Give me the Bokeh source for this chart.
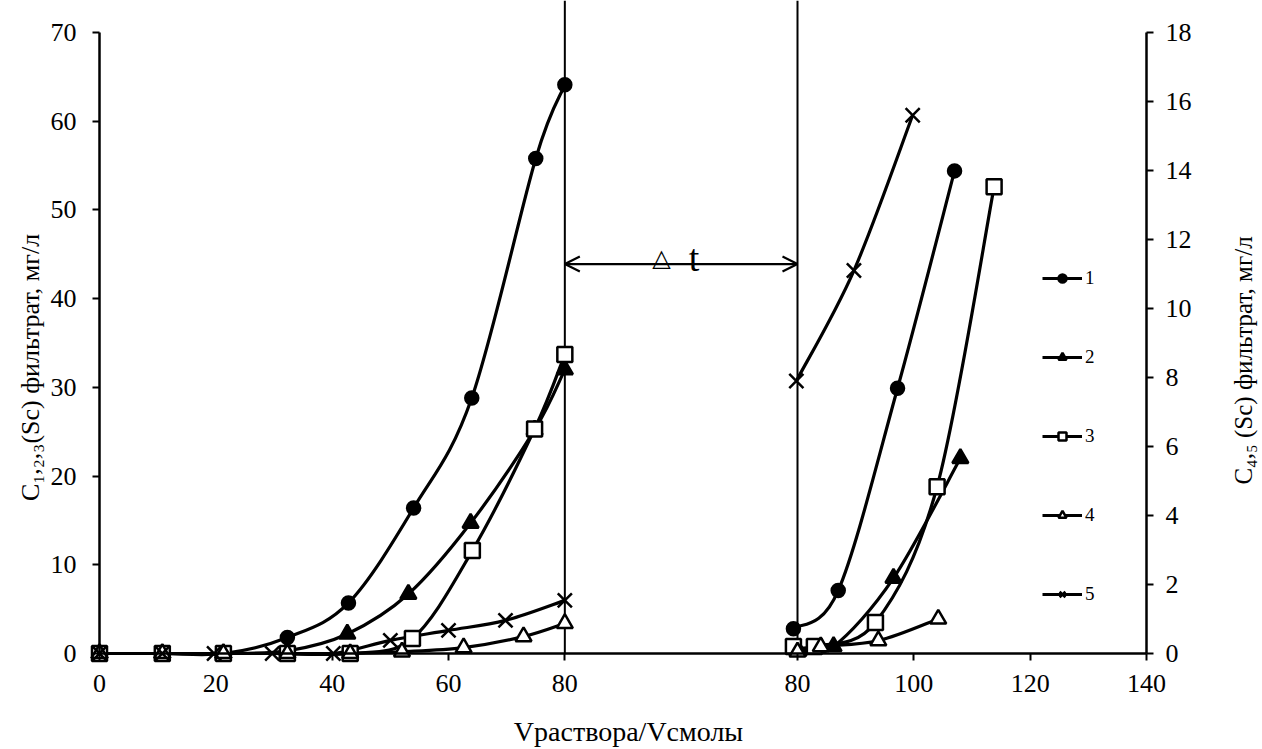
import math
from bokeh.plotting import figure
from bokeh.models import (Range1d, LinearAxis, FixedTicker, Label, Legend, LegendItem,
                          Arrow, OpenHead)
from bokeh.embed import file_html
from bokeh.resources import INLINE

# ---------------- data ----------------
# stage 1 (left part of the x axis, 0..80)
s1_x = [0, 10.8, 21.3, 32.3, 42.8, 54.0, 64.0, 75.0, 80.0]
s1_y = [0, 0, 0, 1.8, 5.7, 16.4, 28.8, 55.8, 64.1]
s2_x = [0, 10.8, 21.3, 32.3, 42.6, 53.1, 63.8, 74.8, 80.0]
s2_y = [0, 0, 0, 0.3, 2.2, 6.7, 14.7, 25.2, 32.0]
s3_x = [0, 10.8, 21.3, 32.3, 43.1, 53.8, 64.1, 74.8, 80.0]
s3_y = [0, 0, 0, 0, 0, 1.7, 11.6, 25.3, 33.7]
s4_x = [0, 10.8, 21.3, 32.3, 43.1, 52.0, 62.6, 72.9, 80.0]
s4_y = [0, 0, 0, 0, 0, 0.05, 0.17, 0.49, 0.87]
s5_x = [0, 10.8, 19.7, 29.7, 40.2, 50.0, 60.0, 69.8, 80.0]
s5_y = [0, 0, 0, 0, 0, 0.38, 0.67, 0.96, 1.54]

# stage 2 (right part of the x axis, 80..140)
r1_x = [79.3, 87.0, 97.2, 107.0]
r1_y = [2.8, 7.1, 29.9, 54.4]
r2_x = [80.2, 86.2, 96.5, 108.0]
r2_y = [0.3, 0.8, 8.5, 22.0]
r3_x = [79.3, 82.9, 93.4, 104.0, 113.8]
r3_y = [0.8, 0.8, 3.5, 18.8, 52.6]
r4_x = [80.0, 84.0, 93.9, 104.2]
r4_y = [0.05, 0.2, 0.37, 1.0]
r5_x = [79.8, 89.7, 99.8]
r5_y = [7.9, 11.1, 15.6]

left_ticks = [0, 10, 20, 30, 40, 50, 60, 70]
right_ticks = [0, 2, 4, 6, 8, 10, 12, 14, 16, 18]
x_tick_labels_left = [0, 20, 40, 60, 80]
x_tick_labels_right = [80, 100, 120, 140]
legend_labels = ["1", "2", "3", "4", "5"]

GAP = 40  # the second stage is drawn shifted by this many axis units
boundaries = [80, 80 + GAP]
X_MAX = 140 + GAP

FONT = "Liberation Serif"

# ---------------- layout ----------------
W, H = 1262, 749
X0_PX, XMAX_PX = 99, 1146       # pixel positions of x=0 and of the last tick
Y0_PX, Y70_PX = 653, 32         # pixel positions of y=0 and y=70 (left axis)
sx = (XMAX_PX - X0_PX) / X_MAX
sy = (Y0_PX - Y70_PX) / 70.0
x_start = -X0_PX / sx
x_end = X_MAX + (W - XMAX_PX) / sx
y_end = Y0_PX / sy
y_start = -(H - Y0_PX) / sy
R = 18 / 70

p = figure(width=W, height=H, output_backend="svg", toolbar_location=None,
           x_range=Range1d(x_start, x_end), y_range=Range1d(y_start, y_end),
           x_axis_type=None, y_axis_type=None, title=None,
           min_border_left=0, min_border_right=0, min_border_top=0, min_border_bottom=0)
p.extra_y_ranges = {"right": Range1d(y_start * R, y_end * R)}
p.outline_line_color = None
p.background_fill_color = "white"
p.border_fill_color = "white"


def style_axis(ax):
    ax.axis_line_width = 2.5
    ax.axis_line_color = "black"
    ax.major_tick_line_width = 2
    ax.major_tick_line_color = "black"
    ax.major_tick_out = 7
    ax.major_tick_in = 0
    ax.minor_tick_out = 0
    ax.minor_tick_in = 0
    ax.major_label_text_font = FONT
    ax.major_label_text_font_size = "26px"
    ax.major_label_text_color = "black"


x_ticks = x_tick_labels_left + [v + GAP for v in x_tick_labels_right]
xaxis = LinearAxis(ticker=FixedTicker(ticks=x_ticks), bounds=(0, X_MAX), fixed_location=0)
xaxis.major_label_overrides = {v + GAP: str(v) for v in x_tick_labels_right}
style_axis(xaxis)
xaxis.major_label_standoff = 14
p.add_layout(xaxis, "below")

yaxis = LinearAxis(ticker=FixedTicker(ticks=left_ticks), bounds=(0, 70), fixed_location=0)
style_axis(yaxis)
yaxis.major_label_standoff = 16
p.add_layout(yaxis, "left")

raxis = LinearAxis(y_range_name="right", ticker=FixedTicker(ticks=right_ticks),
                   bounds=(0, 18), fixed_location=X_MAX)
style_axis(raxis)
raxis.major_label_standoff = 12
p.add_layout(raxis, "right")

# vertical boundaries of the two stages
p.segment(x0=boundaries, y0=[0, 0], x1=boundaries, y1=[y_end, y_end],
          line_color="black", line_width=2)


def smooth(xs, ys):
    n = len(xs)
    d = dict(x0=[], y0=[], x1=[], y1=[], cx0=[], cy0=[], cx1=[], cy1=[])
    for i in range(n - 1):
        a = i - 1 if i > 0 else i
        b = i + 2 if i + 2 < n else i + 1
        d["x0"].append(xs[i]); d["y0"].append(ys[i])
        d["x1"].append(xs[i + 1]); d["y1"].append(ys[i + 1])
        d["cx0"].append(xs[i] + (xs[i + 1] - xs[a]) / 6)
        d["cy0"].append(ys[i] + (ys[i + 1] - ys[a]) / 6)
        d["cx1"].append(xs[i + 1] - (xs[b] - xs[i]) / 6)
        d["cy1"].append(ys[i + 1] - (ys[b] - ys[i]) / 6)
    return d


series = [
    (s1_x, s1_y, r1_x, r1_y, "circle", "black", "default"),
    (s2_x, s2_y, r2_x, r2_y, "triangle", "black", "default"),
    (s3_x, s3_y, r3_x, r3_y, "square", "white", "default"),
    (s4_x, s4_y, r4_x, r4_y, "triangle", "white", "right"),
    (s5_x, s5_y, r5_x, r5_y, "x", "black", "right"),
]
sizes = {"circle": 13, "triangle": 16, "square": 15, "x": 20}

line_rs = []
for (lx, ly, rx, ry, mk, fill, yr) in series:
    rxs = [v + GAP for v in rx]
    rs = []
    for xs, ys in ((lx, ly), (rxs, ry)):
        rs.append(p.bezier(line_color="black", line_width=3.2, y_range_name=yr, **smooth(xs, ys)))
    line_rs.append(rs)

marker_rs = []
for (lx, ly, rx, ry, mk, fill, yr) in series:
    rxs = [v + GAP for v in rx]
    r = p.scatter(x=lx + rxs, y=ly + ry, marker=mk, size=sizes[mk], fill_color=fill,
                  line_color="black", line_width=2.5, y_range_name=yr)
    marker_rs.append(r)

# arrow between stages
p.add_layout(Arrow(x_start=boundaries[0], y_start=43.9, x_end=boundaries[1], y_end=43.9,
                   line_width=2.2, line_color="black",
                   start=OpenHead(size=15, line_width=2.2, line_color="black"),
                   end=OpenHead(size=15, line_width=2.2, line_color="black")))
p.add_layout(Label(x=96.6, y=44.6, text="△", text_font="DejaVu Sans", text_font_size="24px",
                   text_font_style="bold",
                   text_align="center", text_baseline="alphabetic", text_color="black"))
p.add_layout(Label(x=102.2, y=44.6, text="t", text_font=FONT, text_font_size="38px",
                   text_align="center", text_baseline="alphabetic", text_color="black"))

# axis titles (screen units, from the bottom-left corner of the canvas)
p.add_layout(Label(x=30, y=H - 367, x_units="screen", y_units="screen",
                   text="C₁,₂,₃(Sc) фильтрат, мг/л", angle=math.pi / 2,
                   text_font=FONT, text_font_size="26px", text_align="center",
                   text_baseline="middle", text_color="black"))
p.add_layout(Label(x=1243, y=H - 360, x_units="screen", y_units="screen",
                   text="C₄,₅ (Sc) фильтрат, мг/л", angle=math.pi / 2,
                   text_font=FONT, text_font_size="25px", text_align="center",
                   text_baseline="middle", text_color="black"))
p.add_layout(Label(x=628, y=H - 731, x_units="screen", y_units="screen",
                   text="Vраствора/Vсмолы",
                   text_font=FONT, text_font_size="28px", text_align="center",
                   text_baseline="middle", text_color="black"))

items = [LegendItem(label=lab, renderers=[line_rs[i][0], marker_rs[i]])
         for i, lab in enumerate(legend_labels)]
legend = Legend(items=items, location=(1042, H - 605), orientation="vertical",
                glyph_width=40, glyph_height=20, label_height=20, spacing=57,
                padding=0, margin=0, label_standoff=3,
                label_text_font=FONT, label_text_font_size="19px",
                label_text_color="black",
                border_line_color=None, background_fill_alpha=0)
p.add_layout(legend)

open("out.html", "w").write(file_html(p, INLINE))
